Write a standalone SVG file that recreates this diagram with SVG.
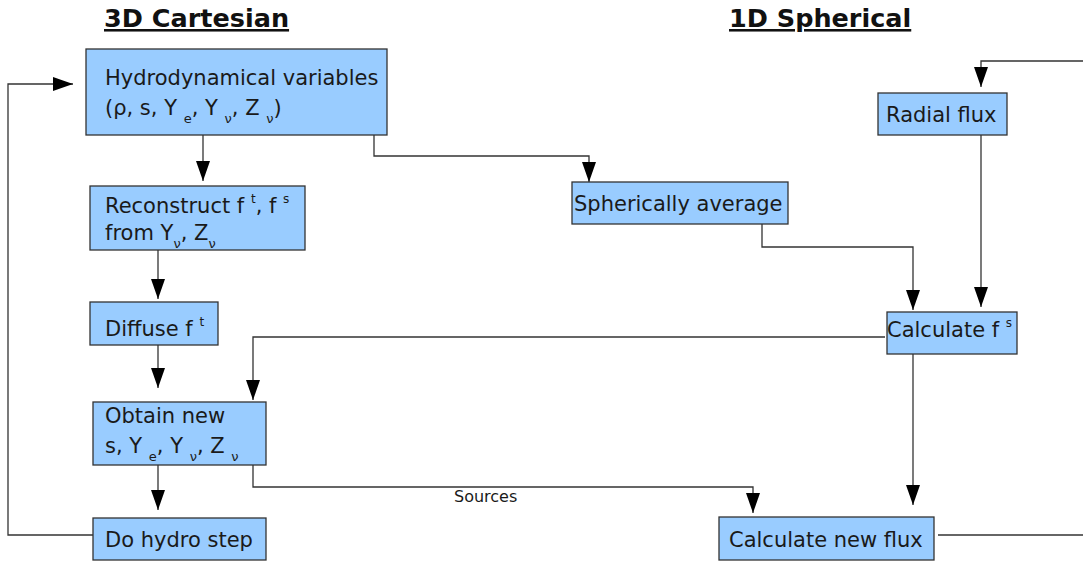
<svg xmlns="http://www.w3.org/2000/svg" width="1083" height="563" viewBox="0 0 1083 563">
  <style>
    .box { fill: #99ccff; stroke: #333333; stroke-width: 1.3; }
    .t { font-family: "DejaVu Sans", "Liberation Sans", sans-serif; font-size: 21px; fill: #1a1a1a; }
    .sub { font-size: 13px; }
    .sup { font-size: 12px; }
    .title { font-family: "DejaVu Sans", "Liberation Sans", sans-serif; font-size: 25.5px; font-weight: bold; fill: #111111; text-decoration: underline; }
    .lbl { font-family: "DejaVu Sans", "Liberation Sans", sans-serif; font-size: 16px; fill: #1a1a1a; }
    .c { fill: none; stroke: #333333; stroke-width: 1.3; }
    .ca { fill: none; stroke: #333333; stroke-width: 1.3; marker-end: url(#ah); }
  </style>
  <defs>
    <marker id="ah" markerUnits="userSpaceOnUse" markerWidth="20" markerHeight="14" refX="20" refY="7" orient="auto" viewBox="0 0 20 14">
      <path d="M0,0 L20,7 L0,14 z" fill="#000000"/>
    </marker>
  </defs>

  <text class="title" x="104" y="27">3D Cartesian</text>
  <text class="title" x="729" y="27">1D Spherical</text>

  <g id="connectors">
    <path class="ca" d="M203,135 V181"/>
    <path class="ca" d="M158,250 V299"/>
    <path class="ca" d="M158,345 V388"/>
    <path class="ca" d="M158,465 V510"/>
    <path class="ca" d="M93,535 H8 V84 H73"/>
    <path class="ca" d="M374,135 V156 H589 V182"/>
    <path class="ca" d="M762,224 V247 H913 V310"/>
    <path class="ca" d="M981,135 V307"/>
    <path class="ca" d="M885,337 H253 V400"/>
    <path class="ca" d="M913,354 V505"/>
    <path class="ca" d="M253,465 V487 H753 V513"/>
    <text class="lbl" x="454" y="502">Sources</text>
    <path class="c" d="M938,535 H1083"/>
    <path class="ca" d="M1083,61 H981 V87"/>
  </g>

  <g id="hydro-vars">
    <rect class="box" x="86" y="49" width="301" height="86"/>
    <text class="t" x="105" y="85">Hydrodynamical variables</text>
    <text class="t" x="105" y="115">(ρ, s, Y <tspan class="sub" dy="8">e</tspan><tspan dy="-8">, Y </tspan><tspan class="sub" dy="8">ν</tspan><tspan dy="-8">, Z </tspan><tspan class="sub" dy="8">ν</tspan><tspan dy="-8">)</tspan></text>
  </g>

  <g id="reconstruct">
    <rect class="box" x="90" y="186" width="215" height="64"/>
    <text class="t" x="105" y="213">Reconstruct f <tspan class="sup" dy="-10">t</tspan><tspan dy="10">, f </tspan><tspan class="sup" dy="-10">s</tspan></text>
    <text class="t" x="105" y="240">from Y<tspan class="sub" dy="8">ν</tspan><tspan dy="-8">, Z</tspan><tspan class="sub" dy="8">ν</tspan></text>
  </g>

  <g id="diffuse">
    <rect class="box" x="90" y="302" width="128" height="43"/>
    <text class="t" x="105" y="336">Diffuse f <tspan class="sup" dy="-10">t</tspan></text>
  </g>

  <g id="obtain-new">
    <rect class="box" x="93" y="402" width="173" height="63"/>
    <text class="t" x="105" y="423">Obtain new</text>
    <text class="t" x="105" y="453">s, Y <tspan class="sub" dy="8">e</tspan><tspan dy="-8">, Y </tspan><tspan class="sub" dy="8">ν</tspan><tspan dy="-8">, Z </tspan><tspan class="sub" dy="8">ν</tspan></text>
  </g>

  <g id="hydro-step">
    <rect class="box" x="93" y="518" width="173" height="42"/>
    <text class="t" x="105" y="547">Do hydro step</text>
  </g>

  <g id="spherical-average">
    <rect class="box" x="572" y="182" width="216" height="42"/>
    <text class="t" x="574" y="211">Spherically average</text>
  </g>

  <g id="radial-flux">
    <rect class="box" x="878" y="93" width="129" height="42"/>
    <text class="t" x="886" y="122">Radial flux</text>
  </g>

  <g id="calculate-fs">
    <rect class="box" x="887" y="312" width="130" height="42"/>
    <text class="t" x="887" y="337">Calculate f <tspan class="sup" dy="-10">s</tspan></text>
  </g>

  <g id="calculate-new-flux">
    <rect class="box" x="719" y="517" width="215" height="43"/>
    <text class="t" x="729" y="547">Calculate new flux</text>
  </g>
</svg>
